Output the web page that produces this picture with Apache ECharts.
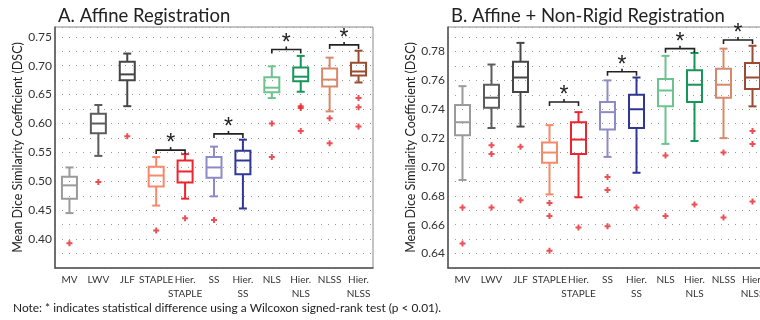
<!DOCTYPE html>
<html>
<head>
<meta charset="utf-8">
<script src="https://cdn.jsdelivr.net/npm/echarts@6/dist/echarts.min.js"></script>
<style>
  html, body { margin: 0; padding: 0; background: #fff; }
  #chart { width: 760px; height: 320px; }
</style>
</head>
<body>
<div id="chart"></div>
<script>
const categories = ['MV', 'LWV', 'JLF', 'STAPLE', 'Hier.\nSTAPLE', 'SS', 'Hier.\nSS', 'NLS', 'Hier.\nNLS', 'NLSS', 'Hier.\nNLSS'];

// [min, q1, median, q3, max]
const affineBoxes = [
    [0.445, 0.470, 0.493, 0.508, 0.524],
    [0.544, 0.583, 0.600, 0.617, 0.632],
    [0.630, 0.675, 0.685, 0.707, 0.721],
    [0.458, 0.491, 0.510, 0.525, 0.542],
    [0.470, 0.498, 0.517, 0.536, 0.547],
    [0.474, 0.506, 0.524, 0.542, 0.560],
    [0.453, 0.512, 0.536, 0.553, 0.572],
    [0.644, 0.654, 0.662, 0.680, 0.699],
    [0.655, 0.673, 0.681, 0.697, 0.717],
    [0.621, 0.664, 0.676, 0.695, 0.714],
    [0.671, 0.683, 0.690, 0.705, 0.726]
];
const affineOutliers = [
    [0, 0.393], [1, 0.499], [2, 0.578], [3, 0.415], [4, 0.436], [5, 0.433],
    [7, 0.600], [7, 0.542], [8, 0.630], [8, 0.627], [8, 0.587],
    [9, 0.609], [9, 0.566], [10, 0.644], [10, 0.628], [10, 0.595]
];
// [left category, right category, bracket height]
const affineBrackets = [[3, 4, 0.554], [5, 6, 0.582], [7, 8, 0.728], [9, 10, 0.736]];

const nonRigidBoxes = [
    [0.691, 0.722, 0.731, 0.743, 0.756],
    [0.727, 0.741, 0.748, 0.757, 0.771],
    [0.728, 0.752, 0.762, 0.773, 0.786],
    [0.681, 0.703, 0.710, 0.717, 0.729],
    [0.679, 0.709, 0.719, 0.731, 0.738],
    [0.707, 0.726, 0.738, 0.745, 0.760],
    [0.696, 0.727, 0.740, 0.750, 0.762],
    [0.716, 0.742, 0.753, 0.761, 0.777],
    [0.718, 0.745, 0.757, 0.767, 0.779],
    [0.720, 0.748, 0.757, 0.768, 0.782],
    [0.742, 0.754, 0.762, 0.772, 0.784]
];
const nonRigidOutliers = [
    [0, 0.672], [0, 0.647], [1, 0.715], [1, 0.709], [1, 0.672], [2, 0.714], [2, 0.677],
    [3, 0.675], [3, 0.666], [3, 0.642], [4, 0.658], [5, 0.693], [5, 0.684], [5, 0.659],
    [6, 0.672], [7, 0.708], [7, 0.666], [8, 0.674], [9, 0.710], [9, 0.665],
    [10, 0.725], [10, 0.716], [10, 0.676]
];
const nonRigidBrackets = [[3, 4, 0.745], [5, 6, 0.766], [7, 8, 0.782], [9, 10, 0.788]];

const boxColors = ['#9b9b9b', '#5c5c5c', '#464646', '#f5896a', '#ec2530', '#8e8ac8', '#2f3796',
                   '#6cc38d', '#17965a', '#d9886b', '#9a4b30'];
const FONT = 'Lato, "Open Sans", sans-serif';

function boxItem(params, api) {
    const i = api.value(0);
    const color = boxColors[i];
    const lo = api.coord([i, api.value(1)]);
    const q1 = api.coord([i, api.value(2)]);
    const med = api.coord([i, api.value(3)]);
    const q3 = api.coord([i, api.value(4)]);
    const hi = api.coord([i, api.value(5)]);
    const x = lo[0];
    const hw = 7.5, cw = 4;
    const st = { stroke: color, lineWidth: 2, fill: null };
    return {
        type: 'group',
        children: [
            { type: 'line', shape: { x1: x, y1: hi[1], x2: x, y2: q3[1] }, style: st },
            { type: 'line', shape: { x1: x, y1: q1[1], x2: x, y2: lo[1] }, style: st },
            { type: 'line', shape: { x1: x - cw, y1: hi[1], x2: x + cw, y2: hi[1] }, style: st },
            { type: 'line', shape: { x1: x - cw, y1: lo[1], x2: x + cw, y2: lo[1] }, style: st },
            { type: 'rect', shape: { x: x - hw, y: q3[1], width: 2 * hw, height: q1[1] - q3[1] }, style: st },
            { type: 'line', shape: { x1: x - hw, y1: med[1], x2: x + hw, y2: med[1] }, style: st }
        ]
    };
}

function bracketItem(params, api) {
    const a = api.coord([api.value(0), api.value(2)]);
    const b = api.coord([api.value(1), api.value(2)]);
    const y = a[1], mid = (a[0] + b[0]) / 2;
    const st = { stroke: '#222', lineWidth: 1.6, fill: null };
    return {
        type: 'group',
        children: [
            { type: 'polyline', shape: { points: [[a[0], y + 4], [a[0], y], [b[0], y], [b[0], y + 4]] }, style: st },
            { type: 'line', shape: { x1: mid, y1: y, x2: mid, y2: y - 3 }, style: st },
            { type: 'text', style: { text: '*', x: mid, y: y - 6, align: 'center', verticalAlign: 'middle',
                fontSize: 23, fontFamily: '"Liberation Sans", Arial, sans-serif', fill: '#222' } }
        ]
    };
}

function yAxis(min, max, step, labelStep, nameGap) {
    return {
        type: 'value', min: min, max: max, interval: step,
        name: 'Mean Dice Similarity Coefficient (DSC)', nameLocation: 'middle', nameGap: nameGap,
        nameTextStyle: { fontSize: 12.5, color: '#222', fontFamily: FONT },
        axisLine: { show: true, lineStyle: { color: '#555', width: 1.5 } },
        axisTick: { show: false },
        axisLabel: {
            fontSize: 12, color: '#333', fontFamily: FONT, margin: 3,
            showMaxLabel: false, showMinLabel: false,
            formatter: v => Math.round(v / step) % labelStep === 0 ? v.toFixed(2) : ''
        },
        splitLine: { show: true, lineStyle: { color: '#999', type: [1, 6], width: 1 } }
    };
}

function xAxis() {
    return {
        type: 'category', data: categories,
        axisLine: { lineStyle: { color: '#555', width: 1.5 } },
        axisTick: { show: false },
        axisLabel: { fontSize: 10, color: '#333', fontFamily: FONT, margin: 5, lineHeight: 14, interval: 0 }
    };
}

function panelSeries(axis, boxes, outliers, brackets) {
    return [
        {
            type: 'custom', xAxisIndex: axis, yAxisIndex: axis, renderItem: boxItem,
            data: boxes.map((b, i) => [i].concat(b)), z: 3
        },
        {
            type: 'scatter', xAxisIndex: axis, yAxisIndex: axis, data: outliers,
            symbol: 'path://M2,0H4V2H6V4H4V6H2V4H0V2H2Z', symbolSize: 6,
            itemStyle: { color: '#e8232b' }, z: 4
        },
        {
            type: 'custom', xAxisIndex: axis, yAxisIndex: axis, renderItem: bracketItem,
            data: brackets, z: 5
        }
    ];
}

const chart = echarts.init(document.getElementById('chart'));
chart.setOption({
    animation: false,
    backgroundColor: '#fff',
    title: [
        { text: 'A. Affine Registration', left: 53, top: 2,
          textStyle: { fontSize: 18.5, fontWeight: 'normal', color: '#222', fontFamily: FONT } },
        { text: 'B. Affine + Non-Rigid Registration', left: 446, top: 2,
          textStyle: { fontSize: 18.5, fontWeight: 'normal', color: '#222', fontFamily: FONT } },
        { text: 'Note: * indicates statistical difference using a Wilcoxon signed-rank test (p < 0.01).',
          left: 8, top: 297,
          textStyle: { fontSize: 11.9, fontWeight: 'normal', color: '#222', fontFamily: FONT } }
    ],
    grid: [
        { left: 55, top: 27, right: 387, bottom: 52, outerBoundsMode: 'none',
          show: true, borderColor: '#888', borderWidth: 1 },
        { left: 448, top: 27, right: -7, bottom: 52, outerBoundsMode: 'none',
          show: true, borderColor: '#888', borderWidth: 1 }
    ],
    xAxis: [Object.assign(xAxis(), { gridIndex: 0 }), Object.assign(xAxis(), { gridIndex: 1 })],
    yAxis: [
        Object.assign(yAxis(0.35, 0.767, 0.025, 2, 24), { gridIndex: 0 }),
        Object.assign(yAxis(0.63, 0.797, 0.01, 2, 25), { gridIndex: 1 })
    ],
    series: panelSeries(0, affineBoxes, affineOutliers, affineBrackets)
        .concat(panelSeries(1, nonRigidBoxes, nonRigidOutliers, nonRigidBrackets))
});
</script>
</body>
</html>
